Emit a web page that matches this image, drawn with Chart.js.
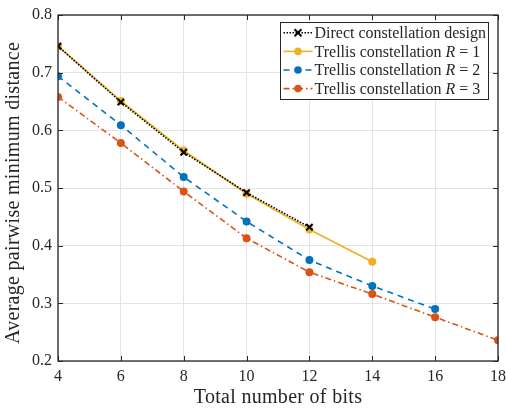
<!DOCTYPE html>
<html>
<head>
<meta charset="utf-8">
<script src="https://cdn.jsdelivr.net/npm/chart.js@4/dist/chart.umd.min.js"></script>
<style>
  html, body { margin: 0; padding: 0; background: #fff; }
  #wrap { width: 506px; height: 409px; }
</style>
</head>
<body>
<div id="wrap"><canvas id="chart"></canvas></div>
<script>
const bits = [4, 6, 8, 10, 12, 14, 16, 18];
const direct = [0.746, 0.649, 0.562, 0.492, 0.432];
const trellisR1 = [0.746, 0.651, 0.565, 0.490, 0.428, 0.372];
const trellisR2 = [0.694, 0.609, 0.519, 0.442, 0.375, 0.330, 0.290];
const trellisR3 = [0.658, 0.578, 0.494, 0.413, 0.354, 0.316, 0.276, 0.236];
const yTicks = [0.2, 0.3, 0.4, 0.5, 0.6, 0.7, 0.8];
const xTitle = 'Total number of bits';
const yTitle = 'Average pairwise minimum distance';

const serif = "'Liberation Serif', 'DejaVu Serif', serif";
const legendSize = 16;

function pts(vals) {
    return vals.map((v, i) => ({ x: bits[i], y: v }));
}

// legend entries: text before the italic R, and the part after it
const legendItems = [
    { pre: 'Direct constellation design', r: null },
    { pre: 'Trellis constellation ', r: '1' },
    { pre: 'Trellis constellation ', r: '2' },
    { pre: 'Trellis constellation ', r: '3' }
];

const frame = {
    id: 'frame',
    afterDraw(chart) {
        const { ctx, chartArea: a, scales } = chart;
        ctx.save();
        ctx.strokeStyle = '#262626';
        ctx.lineWidth = 1;
        ctx.setLineDash([]);
        // inward ticks
        ctx.beginPath();
        bits.forEach(b => {
            const x = Math.round(scales.x.getPixelForValue(b)) + 0.5;
            ctx.moveTo(x, a.bottom); ctx.lineTo(x, a.bottom - 5);
            ctx.moveTo(x, a.top); ctx.lineTo(x, a.top + 5);
        });
        yTicks.forEach(t => {
            const y = Math.round(scales.y.getPixelForValue(t)) + 0.5;
            ctx.moveTo(a.left, y); ctx.lineTo(a.left + 5, y);
            ctx.moveTo(a.right, y); ctx.lineTo(a.right - 5, y);
        });
        ctx.stroke();
        ctx.lineWidth = 1.3;
        ctx.strokeRect(a.left, a.top, a.right - a.left, a.bottom - a.top);

        // axis titles
        ctx.fillStyle = '#262626';
        ctx.font = '20px ' + serif;
        ctx.letterSpacing = '0.3px';
        ctx.textAlign = 'center';
        ctx.textBaseline = 'alphabetic';
        ctx.fillText(xTitle, (a.left + a.right) / 2, 403);
        ctx.save();
        ctx.translate(19, 193);
        ctx.rotate(-Math.PI / 2);
        ctx.fillText(yTitle, 0, 0);
        ctx.restore();
        ctx.letterSpacing = '0px';
        ctx.textAlign = 'left';

        // legend box
        const upright = legendSize + 'px ' + serif;
        const italic = 'italic ' + legendSize + 'px ' + serif;
        ctx.font = upright;
        const widths = legendItems.map(it => {
            if (!it.r) return ctx.measureText(it.pre).width;
            let w = ctx.measureText(it.pre).width;
            ctx.font = italic; w += ctx.measureText('R').width;
            ctx.font = upright; w += ctx.measureText(' = ' + it.r).width;
            return w;
        });
        const sampleW = 34, rowH = 18.6;
        const boxW = sampleW + Math.max(...widths) + 2;
        const boxH = rowH * legendItems.length + 3;
        const bx = a.right - 10 - boxW, by = a.top + 7;
        ctx.fillStyle = '#fff';
        ctx.fillRect(bx, by, boxW, boxH);
        ctx.lineWidth = 1;
        ctx.strokeStyle = '#262626';
        ctx.strokeRect(Math.round(bx) + 0.5, Math.round(by) + 0.5, Math.round(boxW), Math.round(boxH));

        chart.data.datasets.forEach((ds, i) => {
            const cy = by + 1.5 + rowH * (i + 0.5);
            ctx.strokeStyle = ds.borderColor;
            ctx.lineWidth = ds.borderWidth;
            ctx.setLineDash(ds.borderDash || []);
            ctx.beginPath();
            ctx.moveTo(bx + 3, cy); ctx.lineTo(bx + sampleW - 2, cy);
            ctx.stroke();
            ctx.setLineDash([]);
            const mx = bx + 3 + (sampleW - 5) / 2;
            if (ds.pointStyle === 'crossRot') {
                ctx.lineWidth = 2;
                ctx.strokeStyle = '#000';
                ctx.beginPath();
                ctx.moveTo(mx - 3.5, cy - 3.5); ctx.lineTo(mx + 3.5, cy + 3.5);
                ctx.moveTo(mx + 3.5, cy - 3.5); ctx.lineTo(mx - 3.5, cy + 3.5);
                ctx.stroke();
            } else {
                ctx.fillStyle = ds.pointBackgroundColor;
                ctx.beginPath();
                ctx.arc(mx, cy, 3.8, 0, Math.PI * 2);
                ctx.fill();
            }
            const it = legendItems[i];
            ctx.fillStyle = '#262626';
            ctx.textBaseline = 'middle';
            let tx = bx + sampleW;
            ctx.font = upright;
            ctx.fillText(it.pre, tx, cy + 1);
            if (it.r) {
                tx += ctx.measureText(it.pre).width;
                ctx.font = italic;
                ctx.fillText('R', tx, cy + 1);
                tx += ctx.measureText('R').width;
                ctx.font = upright;
                ctx.fillText(' = ' + it.r, tx, cy + 1);
            }
        });
        ctx.restore();
    }
};

new Chart(document.getElementById('chart'), {
    type: 'line',
    data: {
        datasets: [
            {
                label: 'Direct constellation design',
                data: pts(direct),
                borderColor: '#000',
                borderWidth: 1.6,
                borderDash: [1.5, 1.5],
                pointStyle: 'crossRot',
                pointRadius: 4.5,
                pointBorderWidth: 2,
                pointBorderColor: '#000',
                pointBackgroundColor: '#000'
            },
            {
                label: 'Trellis constellation R = 1',
                data: pts(trellisR1),
                borderColor: '#EDB120',
                borderWidth: 1.6,
                pointStyle: 'circle',
                pointRadius: 4,
                pointBorderWidth: 0,
                pointBackgroundColor: '#EDB120'
            },
            {
                label: 'Trellis constellation R = 2',
                data: pts(trellisR2),
                borderColor: '#0072BD',
                borderWidth: 1.6,
                borderDash: [6, 5],
                pointStyle: 'circle',
                pointRadius: 4,
                pointBorderWidth: 0,
                pointBackgroundColor: '#0072BD'
            },
            {
                label: 'Trellis constellation R = 3',
                data: pts(trellisR3),
                borderColor: '#D95319',
                borderWidth: 1.6,
                borderDash: [6, 3, 1.5, 3],
                pointStyle: 'circle',
                pointRadius: 4,
                pointBorderWidth: 0,
                pointBackgroundColor: '#D95319'
            }
        ]
    },
    options: {
        responsive: true,
        maintainAspectRatio: false,
        animation: false,
        layout: { padding: { left: 0, right: 8, top: 15, bottom: 0 } },
        plugins: {
            legend: { display: false },
            tooltip: { enabled: false }
        },
        scales: {
            x: {
                type: 'linear',
                min: 4,
                max: 18,
                afterFit: s => { s.height = 48; s.paddingLeft = 0; s.paddingRight = 0; },
                afterBuildTicks: s => { s.ticks = bits.map(v => ({ value: v })); },
                grid: { color: '#e3e3e3', lineWidth: 1, drawTicks: false },
                border: { display: false },
                ticks: {
                    color: '#262626',
                    padding: 6,
                    font: { family: serif, size: 16 },
                    maxRotation: 0
                },
                title: { display: false }
            },
            y: {
                min: 0.2,
                max: 0.8,
                afterFit: s => { s.width = 58; s.paddingTop = 0; s.paddingBottom = 0; },
                afterBuildTicks: s => { s.ticks = yTicks.map(v => ({ value: v })); },
                grid: { color: '#e3e3e3', lineWidth: 1, drawTicks: false },
                border: { display: false },
                ticks: {
                    color: '#262626',
                    padding: 6,
                    font: { family: serif, size: 16 },
                    callback: v => v.toFixed(1)
                },
                title: { display: false }
            }
        }
    },
    plugins: [frame]
});
</script>
</body>
</html>
